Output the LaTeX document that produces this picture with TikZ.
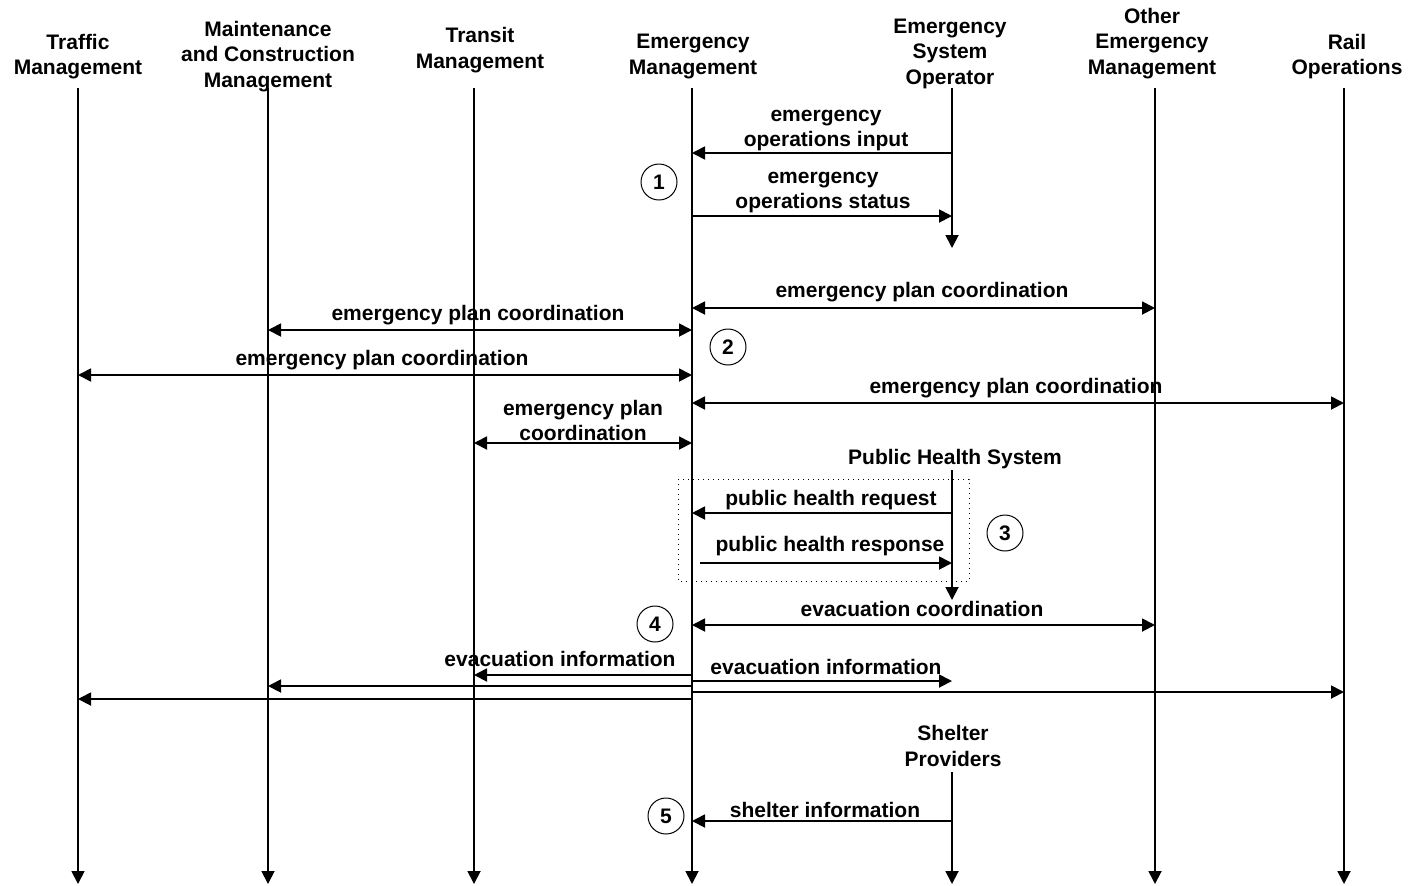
\documentclass[tikz,border=0pt]{standalone}
\usepackage{fontspec}
\setmainfont{Liberation Sans}
\usetikzlibrary{arrows.meta,positioning}

\begin{document}
\begin{tikzpicture}[
  x=0.5pt,y=-0.5pt,
  head/.style={align=center, font=\bfseries\fontsize{10.5}{12.75}\selectfont, inner sep=0pt, yshift=-1pt},
  lbl/.style={align=center, font=\bfseries\fontsize{10.5}{12.75}\selectfont, inner sep=0pt, yshift=-1pt},
  life/.style={line width=0.9pt, -{Triangle[length=6.5pt,width=6.5pt]}},
  msg/.style={line width=0.9pt, -{Triangle[length=6.5pt,width=6.5pt]}},
  both/.style={line width=0.9pt, {Triangle[length=6.5pt,width=6.5pt]}-{Triangle[length=6.5pt,width=6.5pt]}},
  num/.style={draw, circle, line width=0.5pt, minimum size=18pt, inner sep=0pt, font=\bfseries\fontsize{10.5}{12}\selectfont}
]
\useasboundingbox (0,0) rectangle (1412,885);

% actors
\node[head] (hTraffic) at (78,54.5) {Traffic\\Management};
\node[head] (hMaint) at (268,54.5) {Maintenance\\and Construction\\Management};
\node[head] (hTransit) at (480,48) {Transit\\Management};
\node[head] (hEM) at (693,54.5) {Emergency\\Management};
\node[head] (hESO) at (950,51.5) {Emergency\\System\\Operator};
\node[head] (hOEM) at (1152,41.5) {Other\\Emergency\\Management};
\node[head] (hRail) at (1347,54.5) {Rail\\Operations};
\node[head] (hPHS) at (955,457) {Public Health System};
\node[head] (hShelter) at (953,744) {Shelter\\Providers};

% lifelines
\coordinate (traffic) at (78,88);
\coordinate (maint) at (268,88);
\coordinate (transit) at (474,88);
\coordinate (em) at (692,88);
\coordinate (eso) at (952,88);
\coordinate (oem) at (1155,88);
\coordinate (rail) at (1344,88);
\coordinate (phs) at (952,470);
\coordinate (shelter) at (952,772);
\foreach \x in {traffic,maint,transit,em,oem,rail}{\draw[life] (\x) -- (\x |- 0,884);}
\draw[life] (eso) -- (eso |- 0,248);
\draw[life] (phs) -- (phs |- 0,600);
\draw[life] (shelter) -- (shelter |- 0,884);

% step 1: operator input and status
\draw[msg] (eso |- 0,153) -- (em |- 0,153);
\draw[msg] (em |- 0,216) -- (eso |- 0,216);
\node[lbl] (lInput) at (826,128.5) {emergency\\operations input};
\node[lbl] (lStatus) at (823,190.5) {emergency\\operations status};
\node[num] (n1) at (659,182) {1};

% step 2: plan coordination
\foreach \f/\t/\y in {em/oem/308, maint/em/330, traffic/em/375, em/rail/403, transit/em/443}
  {\draw[both] (\f |- 0,\y) -- (\t |- 0,\y);}
\node[lbl] (lPlanA) at (922,290) {emergency plan coordination};
\node[lbl] (lPlanB) at (478,313) {emergency plan coordination};
\node[lbl] (lPlanC) at (382,358) {emergency plan coordination};
\node[lbl] (lPlanD) at (1016,386) {emergency plan coordination};
\node[lbl] (lPlanE) at (583,418.5) {emergency plan\\coordination};
\node[num] (n2) at (728,347) {2};

% step 3: public health
\draw[dotted, line width=0.5pt] (678,479) rectangle (969,581);
\coordinate (phrStart) at (700,563);
\draw[msg] (phs |- 0,513) -- (em |- 0,513);
\draw[msg] (phrStart) -- (phs |- phrStart);
\node[lbl] (lRequest) at (831,498) {public health request};
\node[lbl] (lResponse) at (830,544) {public health response};
\node[num] (n3) at (1005,533) {3};

% step 4: evacuation
\draw[both] (em |- 0,625) -- (oem |- 0,625);
\node[lbl] (lEvacC) at (922,607) {evacuation coordination};
\node[num] (n4) at (655,624) {4};
\foreach \t/\y in {transit/675, eso/681, maint/686, rail/692, traffic/699}
  {\draw[msg] (em |- 0,\y) -- (\t |- 0,\y);}
\node[lbl] (lEvacL) at (560,657) {evacuation information};
\node[lbl] (lEvacR) at (826,665) {evacuation information};

% step 5: shelters
\draw[msg] (shelter |- 0,821) -- (em |- 0,821);
\node[lbl] (lShelter) at (825,808) {shelter information};
\node[num] (n5) at (666,816) {5};
\end{tikzpicture}
\end{document}
